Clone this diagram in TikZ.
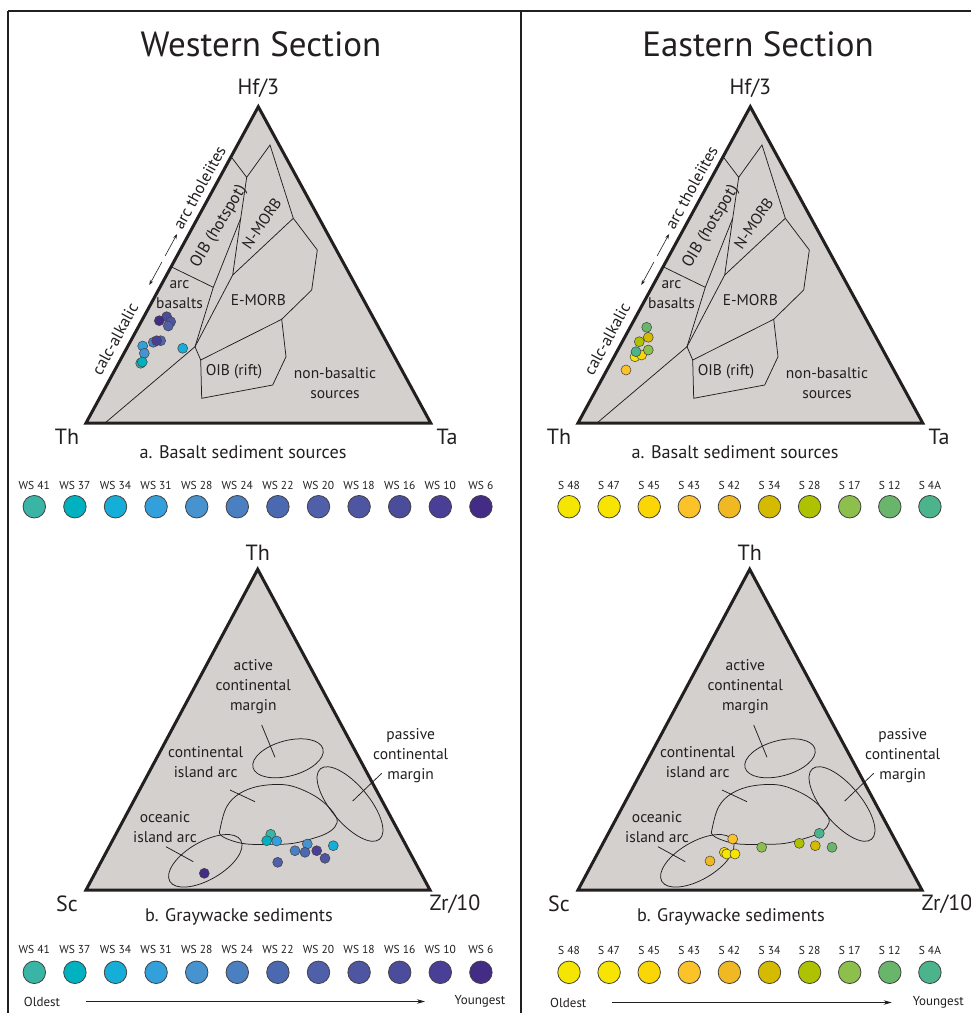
\documentclass[tikz,border=0pt]{standalone}
\usepackage{fontspec}
\setmainfont{PT Sans}
\usetikzlibrary{arrows.meta,calc}
\definecolor{bgray}{HTML}{D3D0CE}
\definecolor{txt}{HTML}{231F20}
\definecolor{wsa}{HTML}{3AB5A5}
\definecolor{wsb}{HTML}{00B2BF}
\definecolor{wsc}{HTML}{14AED9}
\definecolor{wsd}{HTML}{33A0DC}
\definecolor{wse}{HTML}{4793CF}
\definecolor{wsf}{HTML}{4A7FC1}
\definecolor{wsg}{HTML}{4A69B1}
\definecolor{wsh}{HTML}{4F5FA9}
\definecolor{wsi}{HTML}{4E56A1}
\definecolor{wsj}{HTML}{4B4C9B}
\definecolor{wsk}{HTML}{4A3F96}
\definecolor{wsl}{HTML}{432C86}
\definecolor{sa}{HTML}{F4E600}
\definecolor{sb}{HTML}{F7E400}
\definecolor{sc}{HTML}{FAD605}
\definecolor{sd}{HTML}{FBC22A}
\definecolor{se}{HTML}{F0B923}
\definecolor{sf}{HTML}{D5BB00}
\definecolor{sg}{HTML}{AFC200}
\definecolor{sh}{HTML}{8CBF4B}
\definecolor{si}{HTML}{6AB56C}
\definecolor{sj}{HTML}{4CB48D}
\tikzset{
  tri/.style={line width=3pt, line join=miter, draw=txt},
  fld/.style={line width=0.75pt, draw=txt},
  ttl/.style={font=\fontsize{35}{40}\selectfont, inner sep=0, text=txt},
  corner/.style={font=\fontsize{22}{24}\selectfont, inner sep=0, text=txt},
  capt/.style={font=\fontsize{18.2}{20}\selectfont, inner sep=0, text=txt},
  flab/.style={font=\fontsize{15.5}{20}\selectfont, align=center, inner sep=0, text=txt},
  rlab/.style={font=\fontsize{16.5}{20}\selectfont, inner sep=0, text=txt},
  legt/.style={font=\fontsize{11.5}{12}\selectfont, inner sep=0, text=txt},
  legc/.style={circle, draw=txt!85, line width=0.8pt, minimum size=22.5pt, inner sep=0},
  dot/.style={circle, draw=txt!85, line width=0.5pt, minimum size=10pt, inner sep=0},
  aget/.style={font=\fontsize{13}{14}\selectfont, inner sep=0, text=txt},
  agearr/.style={line width=0.7pt, draw=txt, -{Stealth[length=8pt,width=4.5pt]}},
  sarr/.style={line width=0.6pt, draw=txt, -{Stealth[length=5pt,width=3.5pt]}},
  framel/.style={line width=2.5pt, draw=txt},
  framet/.style={line width=2pt, draw=txt},
}
\newcommand\sharedpanel[1]{%
  % ---------- top ternary: Th - Hf/3 - Ta ----------
  \coordinate (#1T1) at (86,423);
  \coordinate (#1T2) at (258.3,106.7);
  \coordinate (#1T3) at (430.7,423);
  \fill[bgray] (#1T1)--(#1T2)--(#1T3)--cycle;
  \coordinate (#1pa) at ($(#1T1)!0.842!(#1T2)$);
  \coordinate (#1pf) at ($(#1T1)!0.494!(#1T2)$);
  \coordinate (#1pb) at (246.7,177.3);
  \coordinate (#1pc) at (270,145);
  \coordinate (#1pd) at (293.3,218.3);
  \coordinate (#1pq) at (240.7,218.3);
  \coordinate (#1pe) at (232.7,275);
  \coordinate (#1pg) at (213.3,287.3);
  \coordinate (#1ph) at (195,346.7);
  \coordinate (#1pi) at (105,423);
  \coordinate (#1pj) at (200.7,360);
  \coordinate (#1pk) at (201.7,398.3);
  \coordinate (#1pl) at (272.7,385);
  \coordinate (#1pm) at (286,356.7);
  \coordinate (#1pn) at (281.7,319.3);
  \coordinate (#1po) at (317.3,250);
  \coordinate (#1pp) at (311.7,290);
  \draw[fld] (#1pa)--(#1pb)--(#1pc)--(#1pd)--(#1pe)--(#1pq)--(#1pb);
  \draw[fld] (#1pf)--(#1pg);
  \draw[fld] (#1pq)--(#1pg)--(#1ph);
  \draw[fld] (#1pe)--(#1ph);
  \draw[fld] (#1pi)--(#1ph)--(#1pj)--(#1pn);
  \draw[fld] (#1pd)--(#1po)--(#1pp)--(#1pn)--(#1pm)--(#1pl)--(#1pk)--(#1pj);
  \draw[tri] (#1T1)--(#1T2)--(#1T3)--cycle;
  \node[corner] (#1hf) at (258.3,88) {Hf/3};
  \node[corner] (#1th) at (67,437) {Th};
  \node[corner] (#1ta) at (447,437) {Ta};
  \node[capt] (#1capa) at (243,452) {a. Basalt sediment sources};
  \node[rlab, rotate=61.4] (#1arct) at (199.4,187.5) {arc tholeiites};
  \node[rlab, rotate=61.4] (#1calc) at (115,339) {calc-alkalic};
  \node[rlab, rotate=59] (#1oibh) at (218.8,226.7) {OIB (hotspot)};
  \node[flab, rotate=56] (#1nmorb) at (261.7,223.3) {N-MORB};
  \node[flab] (#1arcb) at (179.5,295) {arc\\basalts};
  \node[flab] (#1emorb) at (258.3,300) {E-MORB};
  \node[flab] (#1oibr) at (234,371.7) {OIB (rift)};
  \node[flab] (#1nonb) at (335,383.3) {non-basaltic\\sources};
  \coordinate (#1aw1) at (161.9,262);
  \coordinate (#1aw2) at (149.3,285);
  \coordinate (#1aw3) at (165.1,256);
  \coordinate (#1aw4) at (177.1,234);
  \draw[sarr] (#1aw1)--(#1aw2);
  \draw[sarr] (#1aw3)--(#1aw4);
  % ---------- bottom ternary: Sc - Th - Zr/10 ----------
  \coordinate (#1B1) at (86,890);
  \coordinate (#1B2) at (257.7,569.3);
  \coordinate (#1B3) at (430,890);
  \fill[bgray] (#1B1)--(#1B2)--(#1B3)--cycle;
  \draw[fld, rotate around={15:(288,758.3)}] (288,758.3) ellipse [x radius=36.2, y radius=17.7];
  \draw[fld, rotate around={-50:(350,804)}] (350,804) ellipse [x radius=46, y radius=19];
  \draw[fld, rotate around={30:(205.3,860.8)}] (205.3,860.8) ellipse [x radius=41, y radius=19];
  \draw[fld] plot[smooth cycle, tension=0.6] coordinates {(220,829.3) (226.7,806.7) (240,793.3) (260,786) (286.7,785) (310,793.3) (326.7,805) (336.7,818.3) (335,826.7) (326.7,833.3) (313.3,838.3) (293.3,843.3) (273.3,844.3) (246.7,844) (230,840) (220.7,835)};
  \draw[tri] (#1B1)--(#1B2)--(#1B3)--cycle;
  \node[flab] (#1acm) at (253.3,687) {active\\continental\\margin};
  \node[flab] (#1cia) at (205.7,762.3) {continental\\island arc};
  \node[flab] (#1pcm) at (410.7,756) {passive\\continental\\margin};
  \node[flab] (#1oia) at (165,826.7) {oceanic\\island arc};
  \coordinate (#1l1a) at (261.7,725);   \coordinate (#1l1b) at (275,757.3);
  \coordinate (#1l2a) at (230,790);     \coordinate (#1l2b) at (255,801.7);
  \coordinate (#1l3a) at (381.7,773.3); \coordinate (#1l3b) at (352.7,801);
  \coordinate (#1l4a) at (166,846.7);   \coordinate (#1l4b) at (193.3,861.7);
  \draw[fld] (#1l1a)--(#1l1b);
  \draw[fld] (#1l2a)--(#1l2b);
  \draw[fld] (#1l3a)--(#1l3b);
  \draw[fld] (#1l4a)--(#1l4b);
  \node[corner] (#1bth) at (257.7,553) {Th};
  \node[corner] (#1sc) at (67,904) {Sc};
  \node[corner] (#1zr) at (455,904) {Zr/10};
  \node[capt] (#1capb) at (239,917) {b. Graywacke sediments};
}
\begin{document}
\begin{tikzpicture}[x=1pt, y=-1pt]
  \useasboundingbox[fill=white] (0,0) rectangle (971,1013);
  % frame
  \coordinate (fr1) at (8,1013);
  \coordinate (fr2) at (8,11);
  \coordinate (fr3) at (971,11);
  \coordinate (fr4) at (521,11);
  \coordinate (fr5) at (521,1013);
  \draw[framel] (fr1)--(fr2);
  \draw[framet] (fr2)--(fr3);
  \draw[framel] (fr4)--(fr5);
  % titles
  \node[ttl] (wtitle) at (261,44) {Western Section};
  \node[ttl] (etitle) at (758,44) {Eastern Section};
  % panels
  \begin{scope}
    \sharedpanel{W}
  \end{scope}
  \begin{scope}[xshift=492pt]
    \sharedpanel{E}
  \end{scope}
  % ---------- data: western, top ----------
  \foreach \x/\y/\c [count=\n] in {166.7/316.7/wsj, 170.7/321.7/wsi, 168.3/326/wsh, 159.3/320.7/wsl,
      153.3/342.3/wsf, 160.7/340.7/wsg, 156.7/340.7/wsk, 142.7/346/wsd, 144.3/353.3/wse,
      140.7/363.3/wsa, 142.3/362/wsb, 182.7/348.3/wsc}
    {\node[dot, fill=\c] (wtop\n) at (\x,\y) {};}
  % ---------- data: western, bottom ----------
  \foreach \x/\y/\c [count=\n] in {270.7/834.3/wsa, 266.7/840.7/wsb, 276.7/841/wsd, 307.3/844/wse,
      295/850.7/wsf, 305/852.3/wsg, 316.7/850.7/wsk, 325/858.3/wsi, 333.3/845.7/wsc,
      277.7/862.3/wsh, 204.3/873.3/wsl}
    {\node[dot, fill=\c] (wbot\n) at (\x,\y) {};}
  % ---------- data: eastern, top ----------
  \foreach \x/\y/\c [count=\n] in {626/370/sd, 635/356.7/sa, 641.7/355/sc, 648.3/350/sh,
      648.3/337.3/sf, 639.3/341.7/sg, 636/351.7/sj, 646.7/327.3/si}
    {\node[dot, fill=\c] (etop\n) at (\x,\y) {};}
  % ---------- data: eastern, bottom ----------
  \foreach \x/\y/\c [count=\n] in {732.7/839/sd, 710/861/se, 724.3/852.3/sc, 726.7/854/sa,
      735/854/sb, 761.7/847.3/sh, 799.3/843.3/sg, 815.3/845.7/sf, 819.3/833.3/sj, 832/847.3/si}
    {\node[dot, fill=\c] (ebot\n) at (\x,\y) {};}
  % ---------- legends ----------
  \foreach \t/\c [count=\i from 0] in {WS 41/wsa, WS 37/wsb, WS 34/wsc, WS 31/wsd, WS 28/wse,
      WS 24/wsf, WS 22/wsg, WS 20/wsh, WS 18/wsi, WS 16/wsj, WS 10/wsk, WS 6/wsl}
    {\node[legt] (wlta\i) at ({34.3+40.6*\i},485) {\t};
     \node[legc, fill=\c] (wlca\i) at ({34.3+40.6*\i},506.7) {};
     \node[legt] (wltb\i) at ({34.3+40.6*\i},949.5) {\t};
     \node[legc, fill=\c] (wlcb\i) at ({34.3+40.6*\i},972.3) {};}
  \foreach \t/\c [count=\i from 0] in {S 48/sa, S 47/sb, S 45/sc, S 43/sd, S 42/se,
      S 34/sf, S 28/sg, S 17/sh, S 12/si, S 4A/sj}
    {\node[legt] (elta\i) at ({569+40.1*\i},485) {\t};
     \node[legc, fill=\c] (elca\i) at ({569+40.1*\i},506.7) {};
     \node[legt] (eltb\i) at ({569+40.1*\i},950.5) {\t};
     \node[legc, fill=\c] (elcb\i) at ({569+40.1*\i},972.3) {};}
  % ---------- age arrows ----------
  \node[aget] (wold) at (42,1001.5) {Oldest};
  \node[aget] (wyoung) at (480,1001.5) {Youngest};
  \coordinate (wageS) at (86,1001.5);
  \coordinate (wageE) at (425,1001.5);
  \draw[agearr] (wageS)--(wageE);
  \node[aget] (eold) at (568.3,1002.5) {Oldest};
  \node[aget] (eyoung) at (938.3,1002.5) {Youngest};
  \coordinate (eageS) at (611.7,1002.5);
  \coordinate (eageE) at (891.7,1002.5);
  \draw[agearr] (eageS)--(eageE);
\end{tikzpicture}
\end{document}
